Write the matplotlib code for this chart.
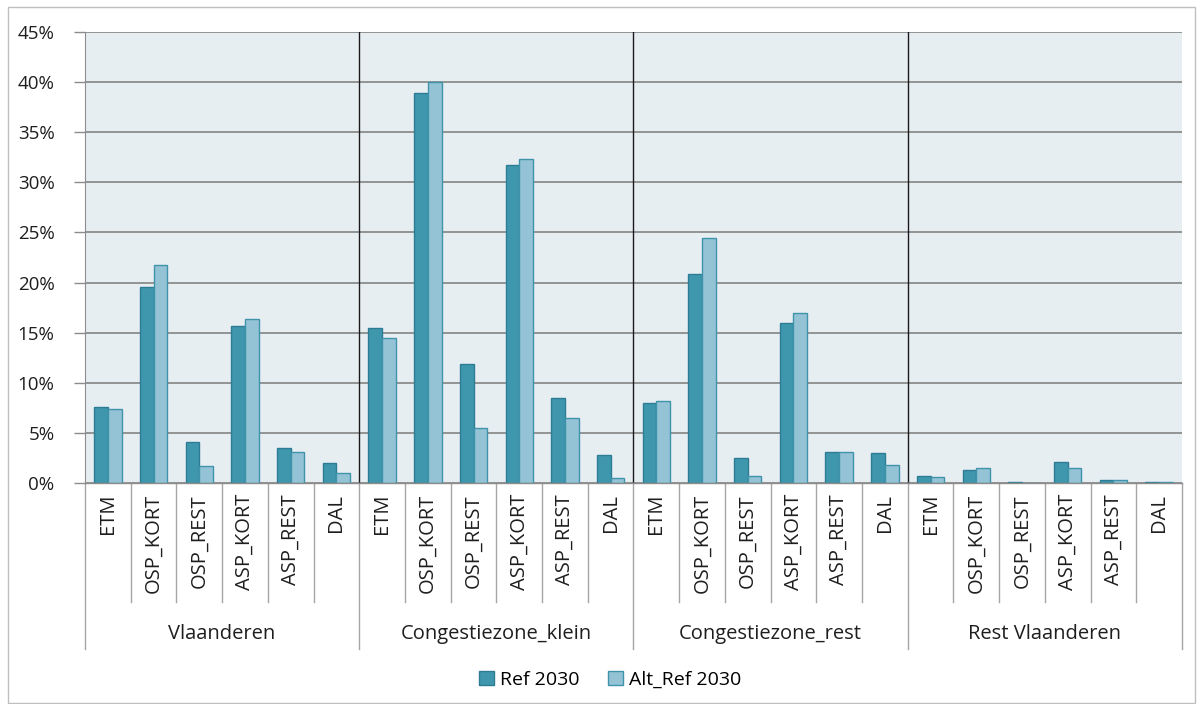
import numpy as np
import matplotlib.pyplot as plt
from matplotlib.patches import Rectangle
from matplotlib.ticker import FuncFormatter

plt.rcParams['font.family'] = ['Open Sans', 'DejaVu Sans']

groups = ['Vlaanderen', 'Congestiezone_klein', 'Congestiezone_rest', 'Rest Vlaanderen']
categories = ['ETM', 'OSP_KORT', 'OSP_REST', 'ASP_KORT', 'ASP_REST', 'DAL']
series_names = ['Ref 2030', 'Alt_Ref 2030']

# percentages, per group in the order of `categories`
ref_2030 = [7.6, 19.6, 4.1, 15.7, 3.5, 2.0,
            15.5, 38.9, 11.9, 31.7, 8.5, 2.8,
            8.0, 20.9, 2.5, 16.0, 3.1, 3.0,
            0.7, 1.3, 0.1, 2.05, 0.27, 0.1]
alt_ref_2030 = [7.4, 21.8, 1.7, 16.4, 3.1, 1.0,
                14.5, 40.0, 5.5, 32.3, 6.5, 0.46,
                8.2, 24.4, 0.7, 17.0, 3.1, 1.8,
                0.55, 1.45, 0.0, 1.45, 0.25, 0.1]

FS = 14.5
TXT = '#1e1e1e'

W, H = 1200, 704
fig = plt.figure(figsize=(12, 7.04), dpi=100)
fig.patches.append(Rectangle((8 / W, 1 - 703 / H), 1187 / W, 696 / H,
                             transform=fig.transFigure, fill=False,
                             edgecolor='#bfbfbf', linewidth=1))

left, right, top, bottom = 85, 1182, 32, 483
ax = fig.add_axes([left / W, 1 - bottom / H, (right - left) / W, (bottom - top) / H])
ax.set_facecolor('#e7eef2')

n = len(ref_2030)
x = np.arange(n)
bw = 0.3
ax.bar(x - bw / 2, ref_2030, bw, color='#3f97ae', edgecolor='#2c7d93', linewidth=1, zorder=3,
       label=series_names[0])
ax.bar(x + bw / 2, alt_ref_2030, bw, color='#93c3d5', edgecolor='#3f93ab', linewidth=1, zorder=3,
       label=series_names[1])

ax.set_xlim(-0.5, n - 0.5)
ax.set_ylim(0, 45)
ax.set_yticks(np.arange(0, 46, 5))
ax.yaxis.set_major_formatter(FuncFormatter(lambda v, p: f'{v:.0f}%'))
ax.tick_params(axis='y', length=8, width=1, color='#8c8c8c', labelsize=13.5, pad=14,
               labelcolor=TXT)
ax.set_xticks([])
ax.grid(axis='y', color='#8c8c8c', linewidth=1.3, zorder=1)
for s in ['top', 'right', 'bottom']:
    ax.spines[s].set_visible(False)
ax.spines['left'].set_color('#8c8c8c')

# group separators inside the plot
ng = len(categories)
for g in range(1, len(groups)):
    ax.axvline(g * ng - 0.5, color='#1a1a1a', linewidth=1, zorder=2)

# category axis below the plot
trans = ax.get_xaxis_transform()
ph = bottom - top
cat_end = -(602 - bottom) / ph
grp_end = -(649 - bottom) / ph
ax.plot([-0.5, n - 0.5], [0, 0], transform=trans, color='#8c8c8c', lw=1, clip_on=False, zorder=4)
for i in range(n + 1):
    xe = i - 0.5
    y_end = grp_end if i % ng == 0 else cat_end
    ax.plot([xe, xe], [0, y_end], transform=trans, color='#a6a6a6', lw=1, clip_on=False)
for i in range(n):
    ax.text(i, -(494 - bottom) / ph, categories[i % ng], transform=trans, rotation=90,
            ha='center', va='top', fontsize=FS, color=TXT)
for g, name in enumerate(groups):
    ax.text(g * ng + (ng - 1) / 2, -(634 - bottom) / ph, name, transform=trans,
            ha='center', va='center', fontsize=FS, color=TXT)

fig.legend(loc='center', bbox_to_anchor=(610 / W, 1 - 680 / H), ncol=2, frameon=False,
           fontsize=14, handlelength=0.75, handleheight=0.75, handletextpad=0.3,
           columnspacing=1.5)

fig.savefig('out.png', dpi=100)
